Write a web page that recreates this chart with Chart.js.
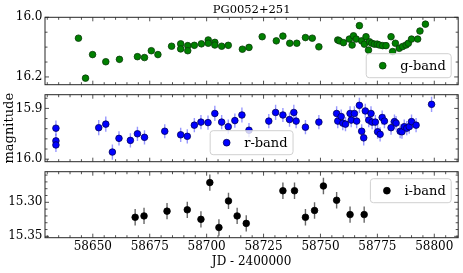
<!DOCTYPE html>
<html><head><meta charset="utf-8">
<script src="https://cdn.jsdelivr.net/npm/chart.js@4/dist/chart.umd.min.js"></script>
<style>
html,body{margin:0;padding:0;background:#fff;}
#wrap{position:relative;width:463px;height:273px;background:#fff;}
canvas{position:absolute;left:0;top:0;}
</style></head><body>
<div id="wrap">
<canvas id="c1" width="463" height="273"></canvas>
<canvas id="c2" width="463" height="273"></canvas>
<canvas id="c3" width="463" height="273"></canvas>
</div>
<script>
// ---------------- data ----------------
const gJD = [58643.7,58646.8,58649.9,58655.7,58661.7,58669.6,58672.7,58675.7,58678.6,58684.6,
  58688.6,58688.6,58691.7,58691.7,58694.6,58697.7,58700.7,58700.7,58703.6,58703.6,
  58706.6,58709.5,58715.7,58718.6,58724.4,58730.6,58733.5,58736.5,58739.6,58743.4,
  58746.4,58749.3,58757.6,58758.3,58760.1,58762.7,58763.9,58764.5,58765.7,58767.1,
  58768.1,58769.3,58770.0,58771.1,58771.5,58772.5,58773.7,58774.9,58775.9,58777.3,
  58778.8,58781.0,58781.7,58782.9,58784.6,58786.1,58787.6,58788.6,58790.0,58792.7,
  58793.7,58796.1];
const gMag = [16.070,16.204,16.125,16.149,16.141,16.132,16.135,16.112,16.125,16.097,
  16.089,16.106,16.095,16.112,16.094,16.089,16.076,16.087,16.084,16.093,
  16.097,16.094,16.107,16.101,16.065,16.079,16.063,16.087,16.087,16.068,
  16.070,16.099,16.076,16.079,16.085,16.073,16.093,16.062,16.073,16.028,
  16.079,16.090,16.065,16.110,16.082,16.087,16.090,16.090,16.093,16.095,
  16.095,16.065,16.115,16.087,16.104,16.098,16.093,16.087,16.073,16.073,
  16.046,16.023];

const rJD = [58633.8,58633.8,58633.8,58652.6,58655.7,58658.6,58661.5,58666.5,58669.6,58672.7,
  58681.6,58688.6,58691.5,58694.6,58697.5,58700.6,58703.6,58706.6,58709.5,58712.4,
  58715.5,58718.6,58727.3,58730.3,58733.5,58736.4,58738.3,58739.3,58743.4,58749.3,
  58757.1,58757.6,58759.1,58759.8,58761.0,58763.0,58763.5,58764.9,58765.9,58767.1,
  58768.1,58769.0,58769.7,58771.2,58772.2,58772.7,58774.1,58775.1,58776.2,58777.1,
  58778.1,58781.0,58782.5,58783.2,58785.0,58785.8,58786.8,58787.9,58789.0,58790.0,
  58792.0,58798.8];
const rMag = [15.939,15.964,15.972,15.938,15.931,15.986,15.959,15.963,15.950,15.957,
  15.945,15.952,15.955,15.933,15.927,15.928,15.910,15.927,15.936,15.924,
  15.913,15.943,15.925,15.908,15.913,15.922,15.908,15.925,15.937,15.927,
  15.910,15.925,15.916,15.929,15.931,15.910,15.923,15.910,15.925,15.894,
  15.945,15.958,15.905,15.923,15.910,15.927,15.927,15.946,15.951,15.918,
  15.925,15.938,15.926,15.929,15.945,15.946,15.936,15.939,15.936,15.926,
  15.933,15.892];
const rErr = [0.015,0.014,0.014,0.015,0.015,0.015,0.014,0.014,0.014,0.014,
  0.014,0.014,0.014,0.014,0.014,0.014,0.015,0.014,0.014,0.014,
  0.015,0.014,0.014,0.015,0.014,0.014,0.015,0.014,0.014,0.014,
  0.014,0.014,0.014,0.014,0.014,0.014,0.014,0.014,0.014,0.015,
  0.014,0.015,0.014,0.014,0.014,0.014,0.014,0.014,0.014,0.014,
  0.014,0.014,0.014,0.014,0.014,0.014,0.014,0.014,0.014,0.014,
  0.014,0.015];

const iJD = [58668.6,58672.5,58682.6,58691.5,58697.5,58701.4,58705.4,58709.6,58713.4,58717.4,
  58733.5,58738.6,58743.4,58747.4,58751.3,58757.1,58763.0,58769.2];
const iMag = [15.322,15.320,15.313,15.311,15.325,15.271,15.337,15.298,15.320,15.331,
  15.283,15.283,15.322,15.312,15.276,15.297,15.318,15.318];
const iErr = [0.012,0.012,0.012,0.012,0.012,0.012,0.012,0.012,0.012,0.012,
  0.012,0.012,0.012,0.012,0.012,0.012,0.012,0.012];

const xTickLabels = [58650,58675,58700,58725,58750,58775,58800];
const xMinorTicks = [58630,58635,58640,58645,58655,58660,58665,58670,58680,58685,58690,58695,
  58705,58710,58715,58720,58730,58735,58740,58745,58755,58760,58765,58770,58780,58785,
  58790,58795,58805,58810];
const gTickLabels = [16.0,16.2];
const gMinorTicks = [16.05,16.1,16.15];
const rTickLabels = [15.9,16.0];
const rMinorTicks = [15.88,15.92,15.94,15.96,15.98];
const iTickLabels = [15.30,15.35];
const iMinorTicks = [15.26,15.27,15.28,15.29,15.31,15.32,15.33,15.34];

// ---------------- style ----------------
const FAMILY = "'DejaVu Serif', serif";
const X_MIN = 58629, X_MAX = 58810.5;

const pts = (xs, ys) => xs.map((x, k) => ({x, y: ys[k]}));

const errBars = {
  id: 'errBars',
  beforeDatasetsDraw(chart) {
    const {ctx, chartArea: a, scales: {y}} = chart;
    chart.data.datasets.forEach((ds, i) => {
      if (!ds.yErr) return;
      const meta = chart.getDatasetMeta(i);
      ctx.save();
      ctx.beginPath(); ctx.rect(a.left, a.top, a.width, a.height); ctx.clip();
      ctx.strokeStyle = ds.errColor; ctx.lineWidth = 1.4;
      meta.data.forEach((pt, j) => {
        const v = ds.data[j].y, e = ds.yErr[j];
        ctx.beginPath();
        ctx.moveTo(pt.x, y.getPixelForValue(v - e));
        ctx.lineTo(pt.x, y.getPixelForValue(v + e));
        ctx.stroke();
      });
      ctx.restore();
    });
  }
};

const frameTicks = {
  id: 'frameTicks',
  afterDatasetsDraw(chart, args, o) {
    const {ctx, chartArea: a, scales: {x, y}} = chart;
    ctx.save();
    ctx.strokeStyle = '#262626'; ctx.lineWidth = 0.8;
    ctx.beginPath();
    const xt = (vals, len) => vals.forEach(v => {
      const p = x.getPixelForValue(v);
      if (p < a.left - 0.5 || p > a.right + 0.5) return;
      ctx.moveTo(p, a.bottom); ctx.lineTo(p, a.bottom - len);
      ctx.moveTo(p, a.top); ctx.lineTo(p, a.top + len);
    });
    const yt = (vals, len) => vals.forEach(v => {
      const p = y.getPixelForValue(v);
      ctx.moveTo(a.left, p); ctx.lineTo(a.left + len, p);
      ctx.moveTo(a.right, p); ctx.lineTo(a.right - len, p);
    });
    xt(o.xMajor, 4); xt(o.xMinor, 2.5);
    yt(o.yMajor, 4); yt(o.yMinor, 2.5);
    ctx.stroke();
    ctx.strokeStyle = '#262626'; ctx.lineWidth = 1;
    ctx.strokeRect(a.left, a.top, a.width, a.height);
    ctx.restore();
  }
};

const insetLegend = {
  id: 'insetLegend',
  afterDatasetsDraw(chart, args, o) {
    if (!o || !o.where) return;
    const ds = chart.data.datasets[0];
    const {ctx, chartArea: a} = chart;
    ctx.save();
    ctx.font = '13px ' + FAMILY;
    const tw = ctx.measureText(ds.label).width;
    const w = tw + 39.5, h = 24, pad = 7;
    const bx = o.where.includes('right') ? a.right - pad - w : (a.left + a.right) / 2 - w / 2;
    const by = o.where.startsWith('upper') ? a.top + pad : a.bottom - pad - h;
    ctx.beginPath();
    ctx.roundRect(bx, by, w, h, 3);
    ctx.fillStyle = 'rgba(255,255,255,0.8)'; ctx.fill();
    ctx.strokeStyle = '#d0d0d0'; ctx.lineWidth = 1; ctx.stroke();
    ctx.beginPath();
    ctx.arc(bx + 16.5, by + h / 2, 3.4, 0, Math.PI * 2);
    ctx.fillStyle = ds.pointBackgroundColor; ctx.fill();
    ctx.strokeStyle = ds.pointBorderColor; ctx.lineWidth = 0.8; ctx.stroke();
    ctx.fillStyle = '#000'; ctx.textBaseline = 'middle'; ctx.textAlign = 'left';
    ctx.fillText(ds.label, bx + 34, by + h / 2 + 0.5);
    ctx.restore();
  }
};

function panel(id, cfg) {
  return new Chart(document.getElementById(id), {
    type: 'scatter',
    data: {datasets: [cfg.dataset]},
    options: {
      responsive: false, animation: false, devicePixelRatio: 1, events: [],
      layout: {padding: {left: 0, right: 4, top: cfg.padTop, bottom: cfg.padBottom}},
      plugins: {
        legend: {display: false}, tooltip: {enabled: false},
        title: cfg.title ? {display: true, text: cfg.title, color: '#000', fullSize: false,
          font: {family: FAMILY, size: 11.5, weight: 'normal'}, padding: {top: 3, bottom: 0.5}} : {display: false},
        frameTicks: {xMajor: xTickLabels, xMinor: xMinorTicks, yMajor: cfg.yTicks, yMinor: cfg.yMinor},
        insetLegend: {where: cfg.legendWhere}
      },
      scales: {
        x: {
          type: 'linear', min: X_MIN, max: X_MAX, display: !!cfg.showX,
          grid: {display: false, drawTicks: false}, border: {display: false},
          ticks: {color: '#000', font: {family: FAMILY, size: 12}, padding: 2, maxRotation: 0, autoSkip: false,
            callback: v => String(Math.round(v))},
          afterBuildTicks: s => { s.ticks = xTickLabels.map(v => ({value: v})); },
          title: {display: !!cfg.showX, text: 'JD - 2400000', color: '#000',
            font: {family: FAMILY, size: 12}, padding: {top: 0, bottom: 4}},
          afterFit: s => { if (cfg.showX) s.height = 35.3; }
        },
        y: {
          type: 'linear', reverse: true, min: cfg.yMin, max: cfg.yMax,
          grid: {display: false, drawTicks: false}, border: {display: false},
          ticks: {color: '#000', font: {family: FAMILY, size: 12}, padding: 2.5,
            callback: v => Number(v).toFixed(cfg.dec)},
          afterBuildTicks: s => { s.ticks = cfg.yTicks.map(v => ({value: v})); },
          title: {display: !!cfg.yTitle, text: cfg.yTitle || '', color: '#000',
            font: {family: FAMILY, size: 13}, padding: {top: 2, bottom: 0}},
          afterFit: s => { s.width = 45; }
        }
      }
    },
    plugins: [errBars, frameTicks, insetLegend]
  });
}

panel('c1', {
  dataset: {label: 'g-band', data: pts(gJD, gMag), pointRadius: 3.3, pointBorderWidth: 0.8,
    pointBackgroundColor: '#008000', pointBorderColor: '#0a3a0a', showLine: false},
  padTop: 0, padBottom: 273 - 84.7, title: 'PG0052+251',
  yMin: 16.0, yMax: 16.226, yTicks: gTickLabels, yMinor: gMinorTicks, dec: 1, legendWhere: 'lower right'
});
panel('c2', {
  dataset: {label: 'r-band', data: pts(rJD, rMag), yErr: rErr, errColor: 'rgba(70,70,255,0.55)',
    pointRadius: 3.3, pointBorderWidth: 0.8, pointBackgroundColor: '#0000ff', pointBorderColor: '#00005a', showLine: false},
  padTop: 94.7, padBottom: 273 - 161.7, yTitle: 'magnitude',
  yMin: 15.873, yMax: 16.005, yTicks: rTickLabels, yMinor: rMinorTicks, dec: 1, legendWhere: 'lower center'
});
panel('c3', {
  dataset: {label: 'i-band', data: pts(iJD, iMag), yErr: iErr, errColor: 'rgba(40,40,40,0.7)',
    pointRadius: 3.3, pointBorderWidth: 0.8, pointBackgroundColor: '#000000', pointBorderColor: '#000000', showLine: false},
  padTop: 171.7, padBottom: 0, showX: true,
  yMin: 15.255, yMax: 15.352, yTicks: iTickLabels, yMinor: iMinorTicks, dec: 2, legendWhere: 'upper right'
});
</script>
</body></html>
